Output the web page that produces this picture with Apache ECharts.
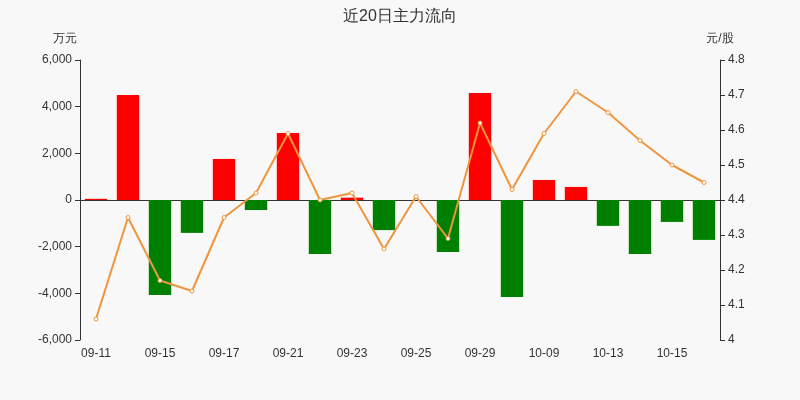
<!DOCTYPE html>
<html><head><meta charset="utf-8">
<script src="https://cdn.jsdelivr.net/npm/echarts@6/dist/echarts.min.js"></script>
<style>html,body{margin:0;padding:0;background:#f8f8f8}#c{width:800px;height:400px}</style>
</head><body><div id="c"></div>
<script>
const categories=['09-11','09-14','09-15','09-16','09-17','09-18','09-21','09-22','09-23','09-24','09-25','09-28','09-29','09-30','10-09','10-12','10-13','10-14','10-15','10-16'];
const flow=[50,4500,-4070,-1410,1760,-430,2870,-2310,100,-1290,0,-2230,4590,-4160,860,560,-1110,-2310,-940,-1710];
const price=[4.06,4.35,4.17,4.14,4.35,4.42,4.59,4.40,4.42,4.26,4.41,4.29,4.62,4.43,4.59,4.71,4.65,4.57,4.50,4.45];
const c=echarts.init(document.getElementById('c'));
const ax={color:'#333',fontSize:12};
c.setOption({
 backgroundColor:'#f8f8f8',
 title:{text:'近20日主力流向',left:'center',top:4,textStyle:{fontSize:16,fontWeight:'normal',color:'#333'}},
 grid:{left:80,right:80,top:60,bottom:60},
 xAxis:{type:'category',data:categories,axisTick:{show:false},axisLine:{lineStyle:{color:'#333'}},axisLabel:Object.assign({interval:1},ax)},
 yAxis:[{type:'value',name:'万元',min:-6000,max:6000,interval:2000,nameGap:15,nameTextStyle:{color:'#333',padding:[0,30,0,0]},axisLine:{show:true,lineStyle:{color:'#333'}},axisTick:{show:true},splitLine:{show:false},axisLabel:ax},
  {type:'value',name:'元/股',min:4,max:4.8,interval:0.1,nameGap:15,nameTextStyle:{color:'#333',padding:[0,0,0,0]},axisLine:{show:true,lineStyle:{color:'#333'}},axisTick:{show:true},splitLine:{show:false},axisLabel:Object.assign({formatter:v=>+v.toFixed(1)+''},ax)}],
 series:[{type:'bar',data:flow.map(v=>({value:v,itemStyle:{color:v>=0?'#ff0000':'#008000'}})),barWidth:'70%'},
  {type:'line',yAxisIndex:1,data:price,symbol:'circle',symbolSize:4,itemStyle:{color:'#fff',borderColor:'#f0953f',borderWidth:1},lineStyle:{color:'#f0953f',width:2}}]
});
</script></body></html>
